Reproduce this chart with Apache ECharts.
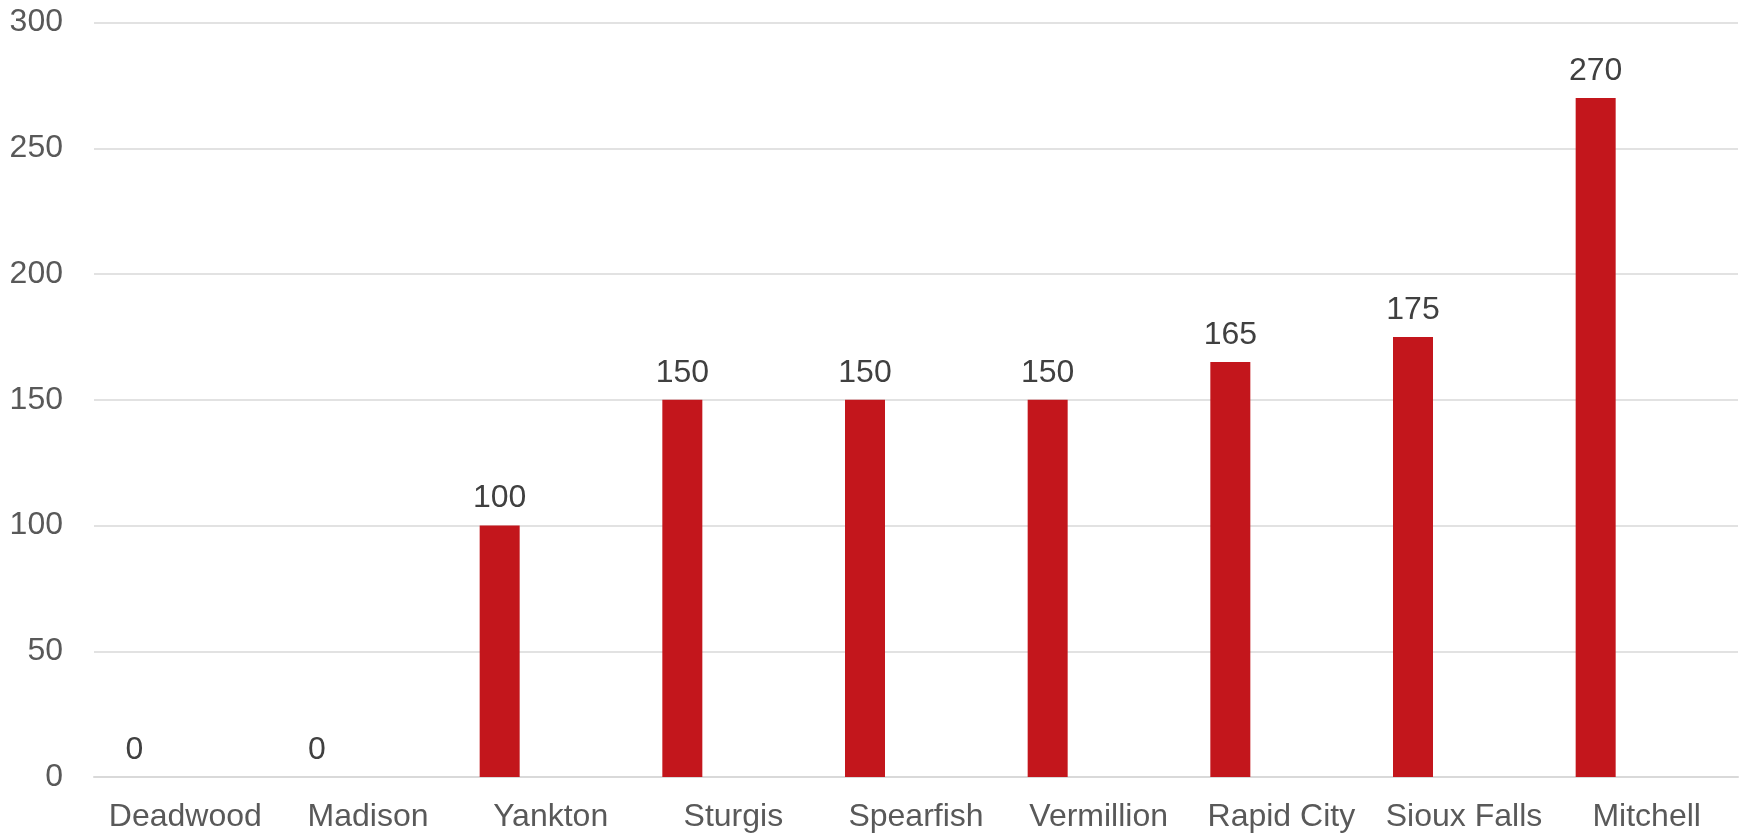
<!DOCTYPE html>
<html>
<head>
<meta charset="utf-8">
<script src="https://cdn.jsdelivr.net/npm/echarts@6/dist/echarts.min.js"></script>
<style>
html,body{margin:0;padding:0;background:#fff;}
#chart{width:1741px;height:833px;}
</style>
</head>
<body>
<div id="chart"></div>
<script>
const categories = ["Deadwood","Madison","Yankton","Sturgis","Spearfish","Vermillion","Rapid City","Sioux Falls","Mitchell"];
const values = [0,0,100,150,150,150,165,175,270];
const yTicks = {min:0, max:300, interval:50};

const chart = echarts.init(document.getElementById('chart'));
const font = "'Liberation Sans', Arial, sans-serif";
chart.setOption({
  animation:false,
  grid:{left:94, right:3, top:22.5, bottom:56, containLabel:false},
  xAxis:{
    type:'category',
    data:categories,
    axisLine:{show:true, lineStyle:{color:'#d9d9d9', width:2}},
    axisTick:{show:false},
    axisLabel:{color:'#595959', fontSize:32, fontFamily:font, margin:24, interval:0}
  },
  yAxis:{
    type:'value',
    min:yTicks.min, max:yTicks.max, interval:yTicks.interval,
    axisLine:{show:false},
    axisTick:{show:false},
    splitLine:{lineStyle:{color:'#d9d9d9', width:1.5}},
    axisLabel:{color:'#595959', fontSize:32, fontFamily:font, margin:31}
  },
  series:[
    {
      type:'bar',
      data:values,
      barWidth:40,
      barGap:'155%',
      itemStyle:{color:'#C3161C'},
      label:{show:true, position:'top', distance:11, color:'#404040', fontSize:32, fontFamily:font}
    },
    {
      type:'bar',
      data:categories.map(()=>'-'),
      barWidth:40,
      itemStyle:{color:'#C3161C'},
      silent:true
    }
  ]
});
</script>
</body>
</html>
